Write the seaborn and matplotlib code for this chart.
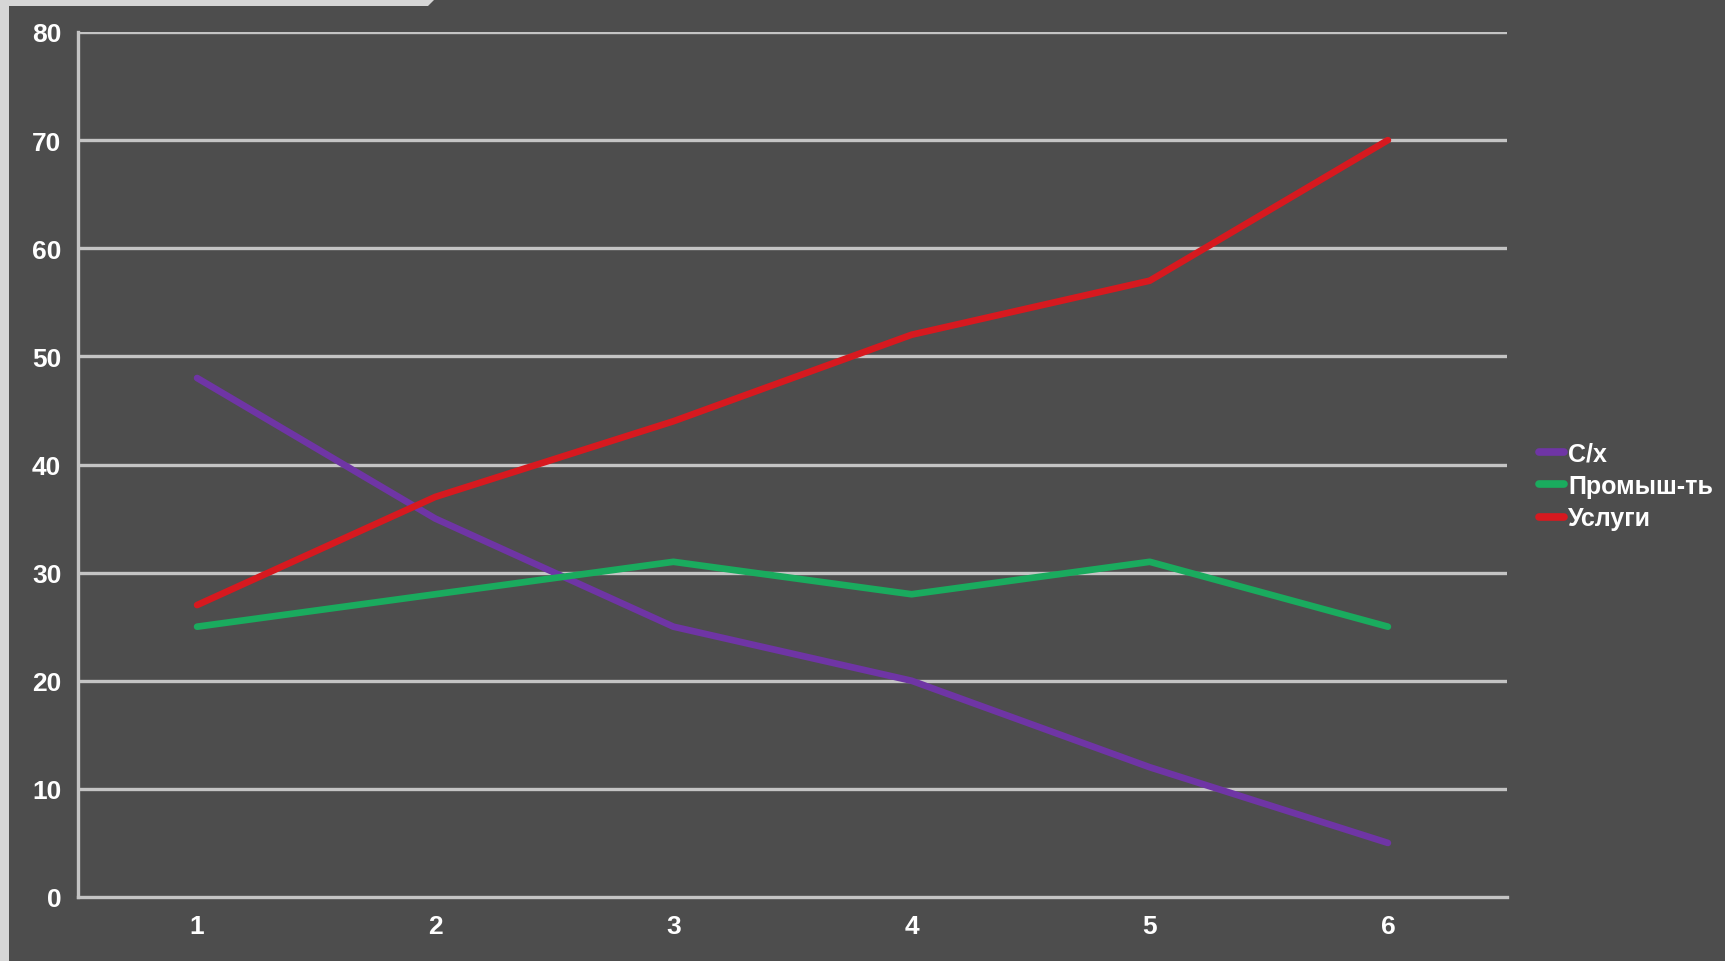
import matplotlib as mpl
import matplotlib.pyplot as plt
import seaborn as sns
import pandas as pd
from matplotlib.patches import Polygon, Rectangle

# values
periods = [1, 2, 3, 4, 5, 6]
sx = [48, 35, 25, 20, 12, 5]
prom = [25, 28, 31, 28, 31, 25]
uslugi = [27, 37, 44, 52, 57, 70]
names = ["С/х", "Промыш-ть", "Услуги"]
colors = ["#6f35a5", "#1aab5e", "#d7191f"]

df = pd.DataFrame({
    "period": periods * 3,
    "value": sx + prom + uslugi,
    "series": [names[0]] * 6 + [names[1]] * 6 + [names[2]] * 6,
})

bg = "#4d4d4d"
grid = "#c4c4c4"

sns.set_style("dark")
mpl.rcParams["font.family"] = ["Liberation Sans", "DejaVu Sans"]

fig = plt.figure(figsize=(17.25, 9.62), dpi=100, facecolor=bg)
ax = fig.add_axes([78 / 1725, 1 - 898 / 962, (1507 - 78) / 1725, (898 - 33) / 962])
ax.set_facecolor(bg)

# light frame bits at the top left of the slide
fig.patches.append(Rectangle((0, 0), 9 / 1725, 1, transform=fig.transFigure,
                             facecolor="#d6d6d6", edgecolor="none"))
fig.patches.append(Polygon([(0, 1), (435 / 1725, 1), (428 / 1725, 1 - 7 / 962), (0, 1 - 7 / 962)],
                           closed=True, transform=fig.transFigure,
                           facecolor="#d6d6d6", edgecolor="none"))

sns.lineplot(data=df, x="period", y="value", hue="series", palette=colors,
             linewidth=4.8, ax=ax, legend=True)

ax.set_xlim(0.5, 6.5)
ax.set_ylim(0, 80)
ax.set_yticks(range(0, 81, 10))
ax.set_xticks(periods)
ax.set_xticks([p - 0.5 for p in periods] + [6.5], minor=True)
ax.set_xlabel("")
ax.set_ylabel("")

for y in range(10, 81, 10):
    ax.axhline(y, color=grid, linewidth=2.4, zorder=0)
ax.grid(False)

for s in ["top", "right"]:
    ax.spines[s].set_visible(False)
for s in ["left", "bottom"]:
    ax.spines[s].set_color(grid)
    ax.spines[s].set_linewidth(2.4)

ax.tick_params(axis="x", which="major", length=0, pad=12, labelsize=19, labelcolor="white")
ax.tick_params(axis="x", which="minor", length=7, width=2.2, color=grid, direction="out")
ax.tick_params(axis="y", length=6, width=2.2, color=grid, direction="out", pad=6,
               labelsize=19, labelcolor="white")
for lab in ax.get_xticklabels() + ax.get_yticklabels():
    lab.set_fontweight("bold")

leg = ax.legend(loc="center left", bbox_to_anchor=(1.0225, 0.475), frameon=False,
                handlelength=1.0, handletextpad=0.15, labelspacing=0.33,
                borderpad=0, borderaxespad=0,
                prop={"size": 18, "weight": "bold"})
for t in leg.get_texts():
    t.set_color("white")
for h in leg.get_lines():
    h.set_linewidth(5.5)

fig.savefig("out.png", dpi=100, facecolor=bg)
